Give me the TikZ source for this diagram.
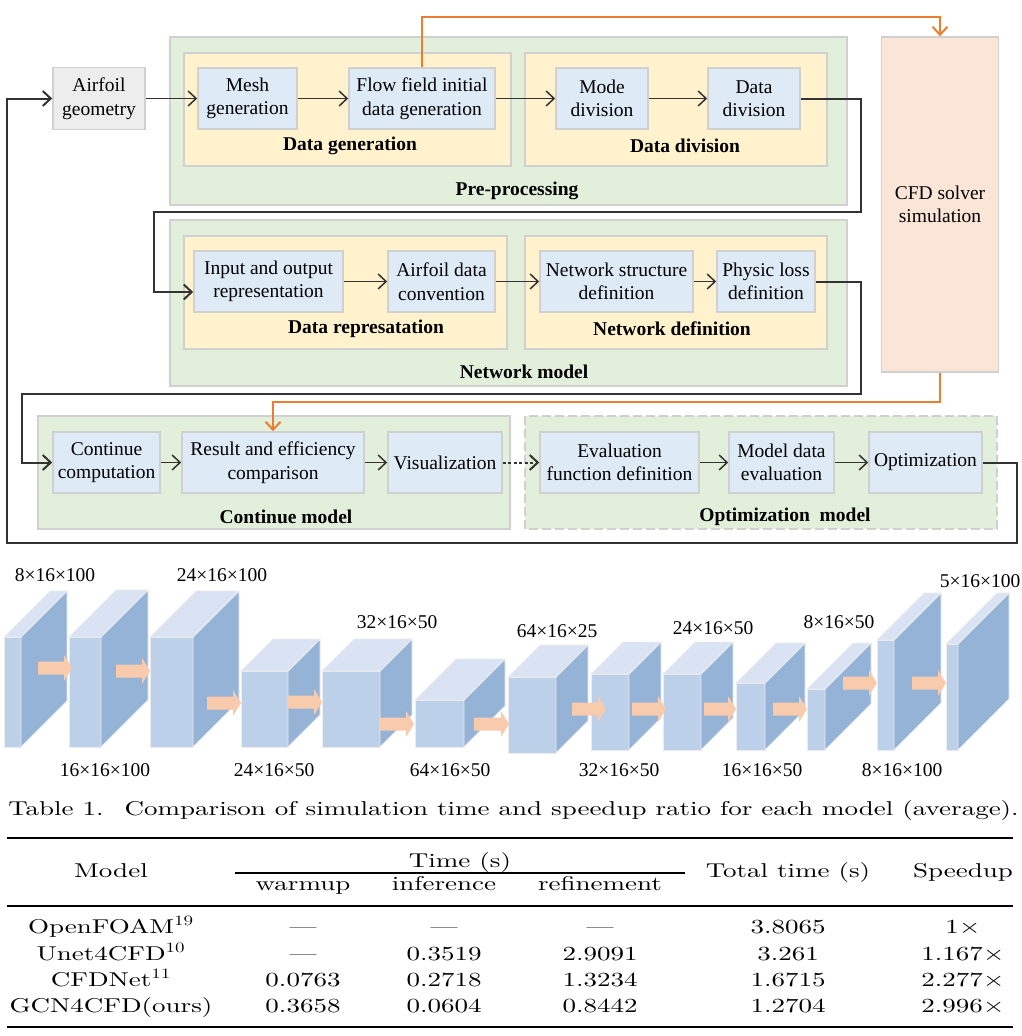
\documentclass[tikz,border=0pt]{standalone}
\usepackage{fontspec}
\newfontfamily\diagfont{Liberation Serif}
\newfontfamily\tabfont{lmroman10-regular}[Extension=.otf, Ligatures=TeX]
\usetikzlibrary{arrows.meta}

\definecolor{stagegreen}{HTML}{E2EFDA}
\definecolor{groupyellow}{HTML}{FFF2CC}
\definecolor{stepblue}{HTML}{DEEBF7}
\definecolor{inputgray}{HTML}{EDEDED}
\definecolor{solverpeach}{HTML}{FBE5D6}
\definecolor{framegray}{HTML}{D0D0D0}
\definecolor{wiregray}{HTML}{333333}
\definecolor{feedorange}{HTML}{ED7D31}
\definecolor{cubefront}{HTML}{BDD0E9}
\definecolor{cubeside}{HTML}{95B3D7}
\definecolor{cubetop}{HTML}{DAE3F3}
\definecolor{flowpeach}{HTML}{F8CBAD}

\tikzset{
  stage/.style={draw=framegray, line width=1.6pt, fill=stagegreen},
  group/.style={draw=framegray, line width=1.6pt, fill=groupyellow},
  stepbox/.style={draw=framegray, line width=1.6pt, fill=stepblue, align=center,
    inner sep=0pt, minimum height=61pt, font=\diagfont\fontsize{19.5}{23.5}\selectfont},
  title/.style={font=\diagfont\bfseries\fontsize{19.5}{23.5}\selectfont},
  link/.style={draw=wiregray, line width=1.5pt, -{Straight Barb[length=8pt,width=15pt]}},
  wire/.style={link, line width=2pt},
  feed/.style={draw=feedorange, line width=2pt, -{Straight Barb[length=8pt,width=15pt]}},
  cubeedge/.style={draw=white!85!gray, line width=0.8pt},
  dimlabel/.style={font=\diagfont\fontsize{19.5}{23.5}\selectfont},
  tabtext/.style={font=\tabfont\fontsize{20}{24}\selectfont, xscale=1.35, transform shape,
    anchor=base, inner sep=0pt},
}

% left x, bottom y, width, height, depth
\newcommand{\layerblock}[5]{
  \filldraw[cubeedge, fill=cubefront] (#1,#2) rectangle ++(#3,-#4);
  \filldraw[cubeedge, fill=cubeside] (#1+#3,#2) -- ++(#5,-#5) -- ++(0,-#4) -- ++(-#5,#5) -- cycle;
  \filldraw[cubeedge, fill=cubetop] (#1,#2-#4) -- ++(#5,-#5) -- ++(#3,0) -- ++(-#5,#5) -- cycle;
}
% from x, to x, at y
\newcommand{\layerarrow}[3]{
  \fill[flowpeach] (#1,#3-6.5) -- (#2-8,#3-6.5) -- (#2-8,#3-13) -- (#2,#3)
    -- (#2-8,#3+13) -- (#2-8,#3+6.5) -- (#1,#3+6.5) -- cycle;
}

\begin{document}
\begin{tikzpicture}[x=1pt, y=-1pt]
  \useasboundingbox (0,0) rectangle (1022,1036);

  % stages and groups
  \draw[stage] (170,37) rectangle (847,205);
  \draw[group] (184,53) rectangle (511,166);
  \draw[group] (525,53) rectangle (827,166);
  \draw[stage] (170,220) rectangle (847,386);
  \draw[group] (184,236) rectangle (507,349);
  \draw[group] (525,236) rectangle (827,349);
  \draw[stage] (38,416) rectangle (510,529);
  \draw[stage, dash pattern=on 9pt off 4pt] (525,416) rectangle (997,529);

  \node[title] (gen) at (350,146) {Data generation};
  \node[title] (div) at (685,146) {Data division};
  \node[title] (pre) at (517,191) {Pre-processing};
  \node[title] (rep) at (366,329) {Data represatation};
  \node[title] (def) at (672,329) {Network definition};
  \node[title] (net) at (524,372) {Network model};
  \node[title] (con) at (286,517) {Continue model};
  \node[title] (optm) at (785,517) {Optimization\enskip model};

  % steps
  \node[stepbox, fill=inputgray, minimum width=92pt, minimum height=62pt] (air) at (99,98.5) {Airfoil\\geometry};
  \node[stepbox, minimum width=99pt] (mesh) at (247.5,98.5) {Mesh\\generation};
  \node[stepbox, minimum width=146pt] (flow) at (422,98.5) {Flow field initial\\data generation};
  \node[stepbox, minimum width=92pt] (mode) at (602,98.5) {Mode\\division};
  \node[stepbox, minimum width=92pt] (ddiv) at (754,98.5) {Data\\division};

  \node[stepbox, minimum width=149pt] (input) at (268.5,281.5) {Input and output\\representation};
  \node[stepbox, minimum width=107pt] (conv) at (441.5,281.5) {Airfoil data\\convention};
  \node[stepbox, minimum width=153pt] (struct) at (616.5,281.5) {Network structure\\definition};
  \node[stepbox, minimum width=98pt] (phys) at (766,281.5) {Physic loss\\definition};

  \node[stepbox, minimum width=107pt] (cont) at (106.5,462.5) {Continue\\computation};
  \node[stepbox, minimum width=182pt] (result) at (273,462.5) {Result and efficiency\\comparison};
  \node[stepbox, minimum width=114pt] (vis) at (445,462.5) {Visualization};
  \node[stepbox, minimum width=159pt] (eval) at (619.5,462.5) {Evaluation\\function definition};
  \node[stepbox, minimum width=105pt] (mdata) at (781.5,462.5) {Model data\\evaluation};
  \node[stepbox, minimum width=113pt] (opt) at (925.5,462.5) {Optimization};

  \node[stepbox, fill=solverpeach, minimum width=117pt, minimum height=335pt] (cfd) at (940,204.5) {CFD solver\\simulation};

  \draw[link] (air) -- (mesh);
  \draw[link] (mesh) -- (flow);
  \draw[link] (flow) -- (mode);
  \draw[link] (mode) -- (ddiv);
  \draw[link] (input) -- (conv);
  \draw[link] (conv) -- (struct);
  \draw[link] (struct) -- (phys);
  \draw[link] (cont) -- (result);
  \draw[link] (result) -- (vis);
  \draw[link, line width=2pt, dash pattern=on 3pt off 2.5pt] (vis) -- (eval);
  \draw[link] (eval) -- (mdata);
  \draw[link] (mdata) -- (opt);

  % loops back to the left
  \coordinate (turn1) at (861,212);
  \coordinate (turn2) at (154,212);
  \coordinate (entry1) at (154,292);
  \draw[wire] (ddiv.east) -| (turn1) -- (turn2) -- (entry1) -- (entry1 -| input.west);
  \coordinate (turn3) at (861,394);
  \coordinate (turn4) at (22,394);
  \draw[wire] (phys.east) -| (turn3) -- (turn4) |- (cont.west);
  \coordinate (turn5) at (1017,543);
  \coordinate (turn6) at (7,543);
  \draw[wire] (opt.east) -| (turn5) -- (turn6) |- (air.west);

  \coordinate (feed1) at (940,17);
  \draw[feed] (flow.north) |- (feed1) -- (cfd.north);
  \coordinate (feed2) at (273,402);
  \draw[feed] (cfd.south) |- (feed2) -- (result.north);

  % network layers
  \layerblock{4}{747}{17}{110}{46}
  \layerblock{69}{747}{32}{110}{47}
  \layerblock{150}{747}{43}{110}{46}
  \layerblock{241}{747}{47}{76}{32}
  \layerblock{322}{747}{58}{76}{32}
  \layerblock{415}{747}{49}{47}{41}
  \layerblock{508}{753}{48}{76}{32}
  \layerblock{591}{750}{38}{76}{32}
  \layerblock{663}{750}{38}{76}{32}
  \layerblock{736}{750}{29}{67}{40}
  \layerblock{807}{750}{18}{61}{46}
  \layerblock{877}{750}{17}{110}{47}
  \layerblock{946}{750}{12}{106}{51}

  \layerarrow{38}{72}{668}
  \layerarrow{116}{150}{671}
  \layerarrow{207}{241}{703}
  \layerarrow{288}{322}{702}
  \layerarrow{380}{414}{724}
  \layerarrow{474}{509}{724}
  \layerarrow{572}{606}{709}
  \layerarrow{632}{666}{709}
  \layerarrow{704}{736}{709}
  \layerarrow{773}{807}{709}
  \layerarrow{843}{877}{683}
  \layerarrow{912}{946}{683}

  \node[dimlabel] (l1) at (55,575) {8×16×100};
  \node[dimlabel] (l2) at (105,770) {16×16×100};
  \node[dimlabel] (l3) at (222,575) {24×16×100};
  \node[dimlabel] (l4) at (274,770) {24×16×50};
  \node[dimlabel] (l5) at (397,622) {32×16×50};
  \node[dimlabel] (l6) at (450,770) {64×16×50};
  \node[dimlabel] (l7) at (557,631) {64×16×25};
  \node[dimlabel] (l8) at (619,770) {32×16×50};
  \node[dimlabel] (l9) at (713,628) {24×16×50};
  \node[dimlabel] (l10) at (762,770) {16×16×50};
  \node[dimlabel] (l11) at (839,622) {8×16×50};
  \node[dimlabel] (l12) at (902,770) {8×16×100};
  \node[dimlabel] (l13) at (980,581) {5×16×100};

  % table
  \node[tabtext, anchor=base west] (captag) at (8,815) {Table 1.};
  \node[tabtext, anchor=base east] (captext) at (1019,815)
    {Comparison of simulation time and speedup ratio for each model (average).};
  \draw[line width=2.6pt] (7,838) -- (1013,838);
  \draw[line width=1.4pt] (235,873) -- (685,873);
  \draw[line width=1.6pt] (7,906) -- (1013,906);
  \draw[line width=2.6pt] (7,1027) -- (1013,1027);

  \node[tabtext] (hmodel) at (111,877) {Model};
  \node[tabtext] (htime) at (460,867) {Time (s)};
  \node[tabtext] (hwarm) at (303,890) {warmup};
  \node[tabtext] (hinf) at (444,890) {inference};
  \node[tabtext] (href) at (600,890) {refinement};
  \node[tabtext] (htotal) at (788,877) {Total time (s)};
  \node[tabtext] (hspeed) at (963,877) {Speedup};

  \node[tabtext] (m1) at (111,933) {OpenFOAM$^{19}$};
  \node[tabtext] (w1) at (303,933) {---};
  \node[tabtext] (i1) at (444,933) {---};
  \node[tabtext] (r1) at (600,933) {---};
  \node[tabtext] (t1) at (788,933) {3.8065};
  \node[tabtext] (s1) at (963,933) {1$\times$};

  \node[tabtext] (m2) at (111,960) {Unet4CFD$^{10}$};
  \node[tabtext] (w2) at (303,960) {---};
  \node[tabtext] (i2) at (444,960) {0.3519};
  \node[tabtext] (r2) at (600,960) {2.9091};
  \node[tabtext] (t2) at (788,960) {3.261};
  \node[tabtext] (s2) at (963,960) {1.167$\times$};

  \node[tabtext] (m3) at (111,986) {CFDNet$^{11}$};
  \node[tabtext] (w3) at (303,986) {0.0763};
  \node[tabtext] (i3) at (444,986) {0.2718};
  \node[tabtext] (r3) at (600,986) {1.3234};
  \node[tabtext] (t3) at (788,986) {1.6715};
  \node[tabtext] (s3) at (963,986) {2.277$\times$};

  \node[tabtext] (m4) at (111,1012) {GCN4CFD(ours)};
  \node[tabtext] (w4) at (303,1012) {0.3658};
  \node[tabtext] (i4) at (444,1012) {0.0604};
  \node[tabtext] (r4) at (600,1012) {0.8442};
  \node[tabtext] (t4) at (788,1012) {1.2704};
  \node[tabtext] (s4) at (963,1012) {2.996$\times$};
\end{tikzpicture}
\end{document}
